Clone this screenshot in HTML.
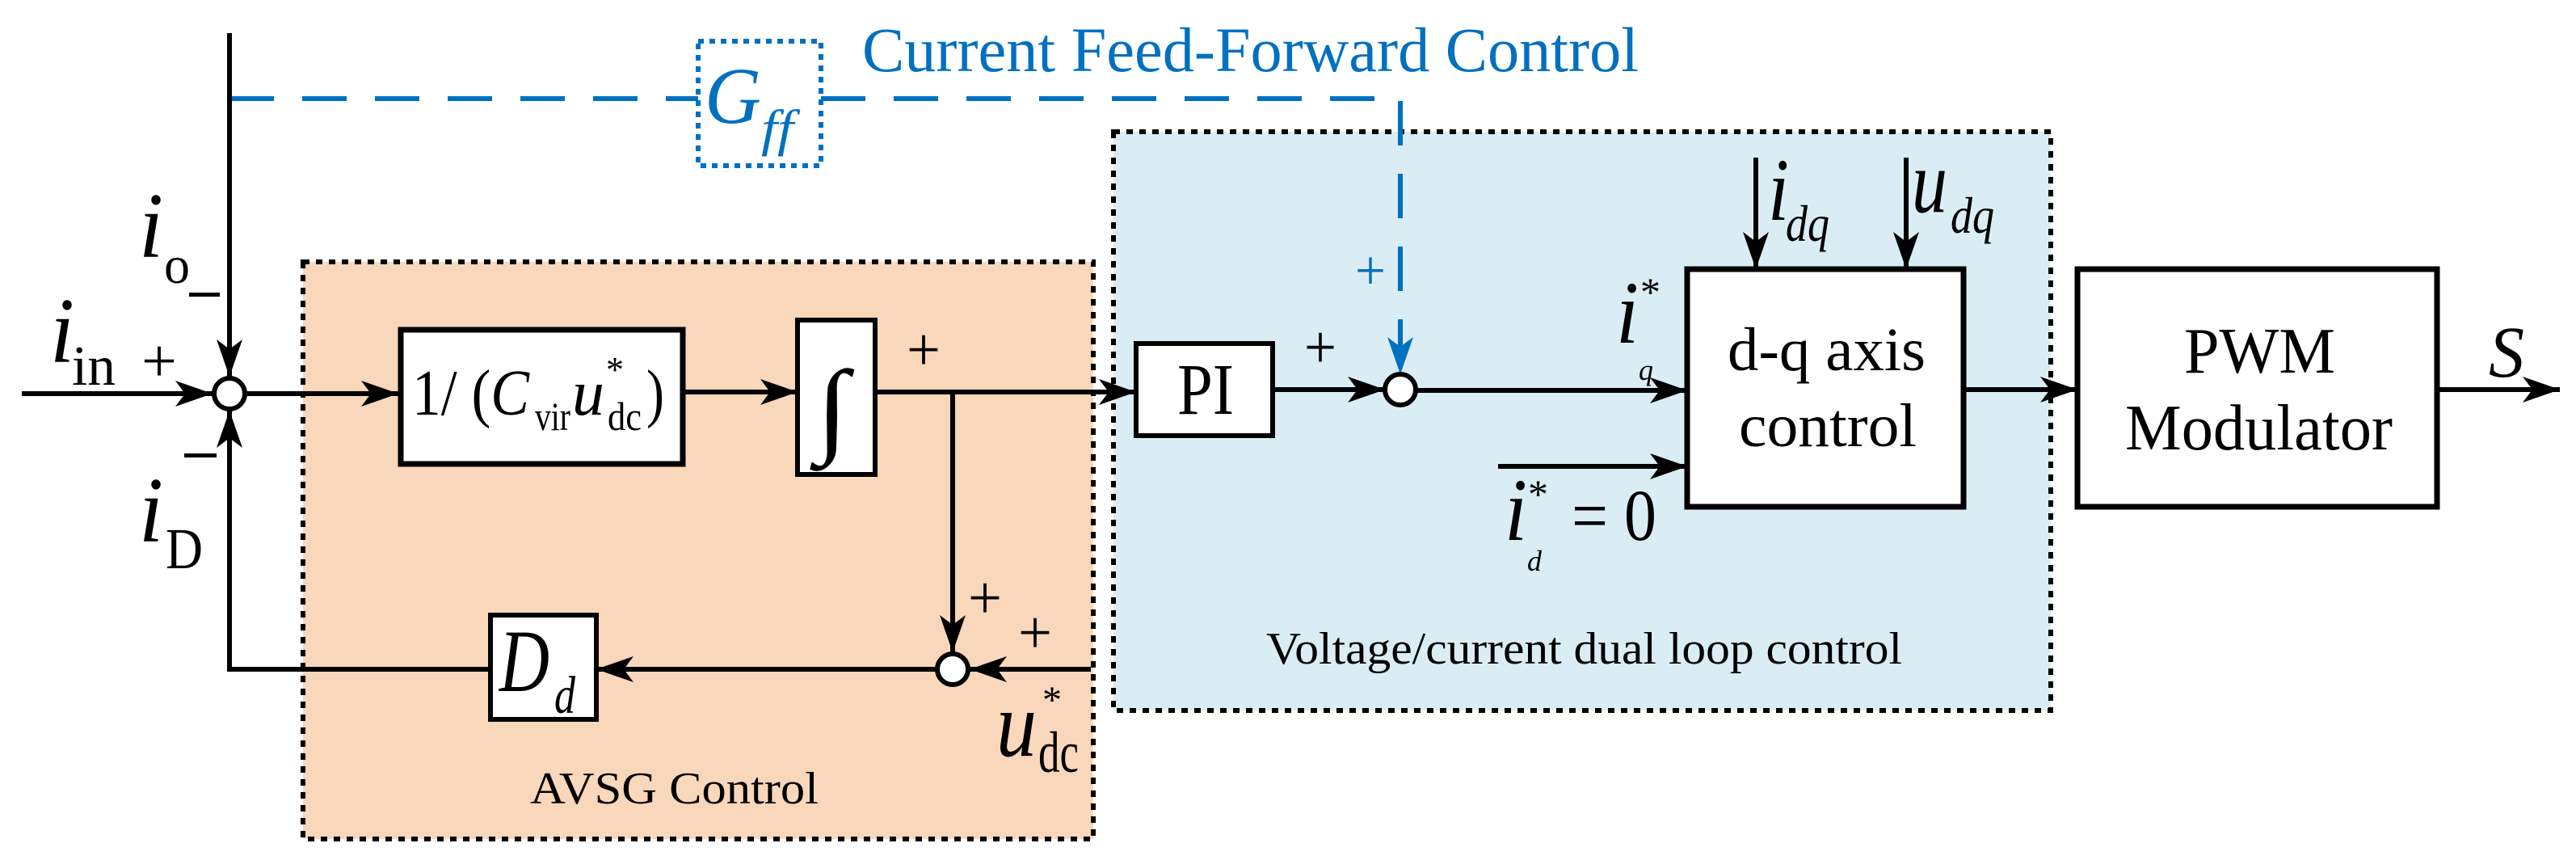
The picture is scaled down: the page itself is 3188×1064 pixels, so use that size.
<!DOCTYPE html>
<html><head><meta charset="utf-8"><style>
html,body{margin:0;padding:0;background:#fff;}
svg{display:block;}
text{font-family:"Liberation Serif","Times New Roman",Times,serif;}
</style></head><body>
<svg width="3188" height="1064" viewBox="0 0 3188 1064" xmlns="http://www.w3.org/2000/svg">
<defs>
<marker id="a" markerUnits="userSpaceOnUse" markerWidth="60" markerHeight="40" refX="46" refY="18" orient="auto">
<path d="M0,2 L46,18 L0,34 L12,18 Z" fill="#000"/>
</marker>
<marker id="b" markerUnits="userSpaceOnUse" markerWidth="60" markerHeight="40" refX="46" refY="18" orient="auto">
<path d="M0,2 L46,18 L0,34 L12,18 Z" fill="#0070c0"/>
</marker>
</defs>
<rect x="375" y="324" width="978" height="714" fill="#f9d7bb" stroke="#000" stroke-width="6" stroke-dasharray="8,8"/>
<rect x="1378" y="163" width="1160" height="716" fill="#daedf4" stroke="#000" stroke-width="6" stroke-dasharray="8,8"/>

<polyline points="284,122 864,122" fill="none" stroke="#0070c0" stroke-width="6" stroke-dasharray="55,35"/>
<polyline points="1016,122 1733,122 1733,463" fill="none" stroke="#0070c0" stroke-width="6" stroke-dasharray="55,35" marker-end="url(#b)"/>
<rect x="864" y="51" width="152" height="154" fill="none" stroke="#0070c0" stroke-width="6" stroke-dasharray="7,7"/>
<text x="872" y="152" font-size="100" font-style="italic" fill="#0070c0" textLength="70" lengthAdjust="spacingAndGlyphs">G</text>
<text x="942" y="180" font-size="64" font-style="italic" fill="#0070c0" textLength="40" lengthAdjust="spacingAndGlyphs">ff</text>
<text x="1067" y="88" font-size="78" fill="#0070c0" textLength="961" lengthAdjust="spacingAndGlyphs">Current Feed-Forward Control</text>
<text x="1677" y="358" font-size="70" fill="#0070c0" textLength="38" lengthAdjust="spacingAndGlyphs">+</text>

<line x1="284" y1="41" x2="284" y2="466" stroke="#000" stroke-width="6" marker-end="url(#a)"/>
<line x1="27" y1="487" x2="263" y2="487" stroke="#000" stroke-width="6" marker-end="url(#a)"/>
<polyline points="607,828 284,828 284,508" fill="none" stroke="#000" stroke-width="6" marker-end="url(#a)"/>
<circle cx="284" cy="487" r="19" fill="#fff" stroke="#000" stroke-width="6"/>
<line x1="303" y1="487" x2="493" y2="487" stroke="#000" stroke-width="6" marker-end="url(#a)"/>

<text x="172" y="318" font-size="115" font-style="italic" textLength="30" lengthAdjust="spacingAndGlyphs">i</text>
<text x="203" y="350" font-size="66" textLength="32" lengthAdjust="spacingAndGlyphs">o</text>
<rect x="234" y="362" width="38" height="5" fill="#000"/>
<text x="62" y="448" font-size="115" font-style="italic" textLength="30" lengthAdjust="spacingAndGlyphs">i</text>
<text x="89" y="476" font-size="70" textLength="54" lengthAdjust="spacingAndGlyphs">in</text>
<text x="175" y="472" font-size="76" textLength="44" lengthAdjust="spacingAndGlyphs">+</text>
<rect x="228" y="561" width="40" height="5" fill="#000"/>
<text x="172" y="670" font-size="115" font-style="italic" textLength="30" lengthAdjust="spacingAndGlyphs">i</text>
<text x="205" y="703" font-size="72" textLength="46" lengthAdjust="spacingAndGlyphs">D</text>

<rect x="496" y="408" width="349" height="166" fill="#fff" stroke="#000" stroke-width="7"/>
<text x="510" y="513" font-size="80" textLength="145" lengthAdjust="spacingAndGlyphs">1/ (<tspan font-style="italic">C</tspan></text>
<text x="662" y="532" font-size="50" textLength="44" lengthAdjust="spacingAndGlyphs">vir</text>
<text x="708" y="513" font-size="80" font-style="italic" textLength="40" lengthAdjust="spacingAndGlyphs">u</text>
<text x="750" y="472" font-size="44">*</text>
<text x="752" y="532" font-size="50" textLength="42" lengthAdjust="spacingAndGlyphs">dc</text>
<text x="800" y="513" font-size="80" textLength="22" lengthAdjust="spacingAndGlyphs">)</text>

<line x1="845" y1="485" x2="987" y2="485" stroke="#000" stroke-width="6" marker-end="url(#a)"/>
<rect x="987" y="396" width="96" height="191" fill="#fff" stroke="#000" stroke-width="6"/>
<text x="1010" y="548" font-size="130" textLength="40" lengthAdjust="spacingAndGlyphs">∫</text>
<text x="1122" y="458" font-size="76" textLength="42" lengthAdjust="spacingAndGlyphs">+</text>
<line x1="1083" y1="485" x2="1406" y2="485" stroke="#000" stroke-width="6" marker-end="url(#a)"/>

<line x1="1179" y1="485" x2="1179" y2="807" stroke="#000" stroke-width="6" marker-end="url(#a)"/>
<line x1="1350" y1="828" x2="1200" y2="828" stroke="#000" stroke-width="6" marker-end="url(#a)"/>
<circle cx="1179" cy="828" r="19" fill="#fff" stroke="#000" stroke-width="6"/>
<line x1="1160" y1="828" x2="738" y2="828" stroke="#000" stroke-width="6" marker-end="url(#a)"/>
<text x="1198" y="765" font-size="76" textLength="42" lengthAdjust="spacingAndGlyphs">+</text>
<text x="1260" y="808" font-size="76" textLength="42" lengthAdjust="spacingAndGlyphs">+</text>
<text x="1233" y="935" font-size="115" font-style="italic" textLength="50" lengthAdjust="spacingAndGlyphs">u</text>
<text x="1290" y="882" font-size="48">*</text>
<text x="1285" y="955" font-size="72" textLength="50" lengthAdjust="spacingAndGlyphs">dc</text>
<rect x="607" y="761" width="131" height="129" fill="#fff" stroke="#000" stroke-width="6"/>
<text x="618" y="855" font-size="110" font-style="italic" textLength="62" lengthAdjust="spacingAndGlyphs">D</text>
<text x="686" y="882" font-size="66" font-style="italic" textLength="26" lengthAdjust="spacingAndGlyphs">d</text>
<text x="656" y="994" font-size="56" textLength="357" lengthAdjust="spacingAndGlyphs">AVSG Control</text>

<rect x="1406" y="425" width="169" height="114" fill="#fff" stroke="#000" stroke-width="6"/>
<text x="1457" y="512" font-size="90" textLength="70" lengthAdjust="spacingAndGlyphs">PI</text>
<line x1="1575" y1="482" x2="1714" y2="482" stroke="#000" stroke-width="6" marker-end="url(#a)"/>
<text x="1614" y="455" font-size="76" textLength="40" lengthAdjust="spacingAndGlyphs">+</text>
<circle cx="1733" cy="482" r="19" fill="#fff" stroke="#000" stroke-width="6"/>
<line x1="1752" y1="483" x2="2088" y2="483" stroke="#000" stroke-width="6" marker-end="url(#a)"/>
<line x1="1854" y1="577" x2="2088" y2="577" stroke="#000" stroke-width="6" marker-end="url(#a)"/>
<text x="2000" y="424" font-size="110" font-style="italic" textLength="28" lengthAdjust="spacingAndGlyphs">i</text>
<text x="2030" y="378" font-size="50">*</text>
<text x="2028" y="470" font-size="36" font-style="italic">q</text>
<text x="1862" y="668" font-size="110" font-style="italic" textLength="28" lengthAdjust="spacingAndGlyphs">i</text>
<text x="1891" y="628" font-size="50">*</text>
<text x="1890" y="706" font-size="36" font-style="italic">d</text>
<text x="1945" y="668" font-size="90" textLength="105" lengthAdjust="spacingAndGlyphs">= 0</text>
<text x="1567" y="821" font-size="56" textLength="787" lengthAdjust="spacingAndGlyphs">Voltage/current dual loop control</text>

<line x1="2173" y1="195" x2="2173" y2="333" stroke="#000" stroke-width="6" marker-end="url(#a)"/>
<line x1="2359" y1="195" x2="2359" y2="333" stroke="#000" stroke-width="6" marker-end="url(#a)"/>
<text x="2188" y="272" font-size="110" font-style="italic" textLength="26" lengthAdjust="spacingAndGlyphs">i</text>
<text x="2210" y="298" font-size="64" font-style="italic" textLength="54" lengthAdjust="spacingAndGlyphs">dq</text>
<text x="2366" y="262" font-size="110" font-style="italic" textLength="44" lengthAdjust="spacingAndGlyphs">u</text>
<text x="2414" y="288" font-size="64" font-style="italic" textLength="54" lengthAdjust="spacingAndGlyphs">dq</text>
<rect x="2088" y="333" width="342" height="294" fill="#fff" stroke="#000" stroke-width="7"/>
<text x="2138" y="458" font-size="76" textLength="245" lengthAdjust="spacingAndGlyphs">d-q axis</text>
<text x="2152" y="552" font-size="76" textLength="220" lengthAdjust="spacingAndGlyphs">control</text>
<line x1="2430" y1="482" x2="2571" y2="482" stroke="#000" stroke-width="6" marker-end="url(#a)"/>

<rect x="2571" y="333" width="445" height="294" fill="#fff" stroke="#000" stroke-width="7"/>
<text x="2703" y="461" font-size="80" textLength="187" lengthAdjust="spacingAndGlyphs">PWM</text>
<text x="2630" y="556" font-size="80" textLength="331" lengthAdjust="spacingAndGlyphs">Modulator</text>
<line x1="3016" y1="482" x2="3168" y2="482" stroke="#000" stroke-width="6" marker-end="url(#a)"/>
<text x="3080" y="466" font-size="90" font-style="italic" textLength="44" lengthAdjust="spacingAndGlyphs">S</text>
</svg>
</body></html>
